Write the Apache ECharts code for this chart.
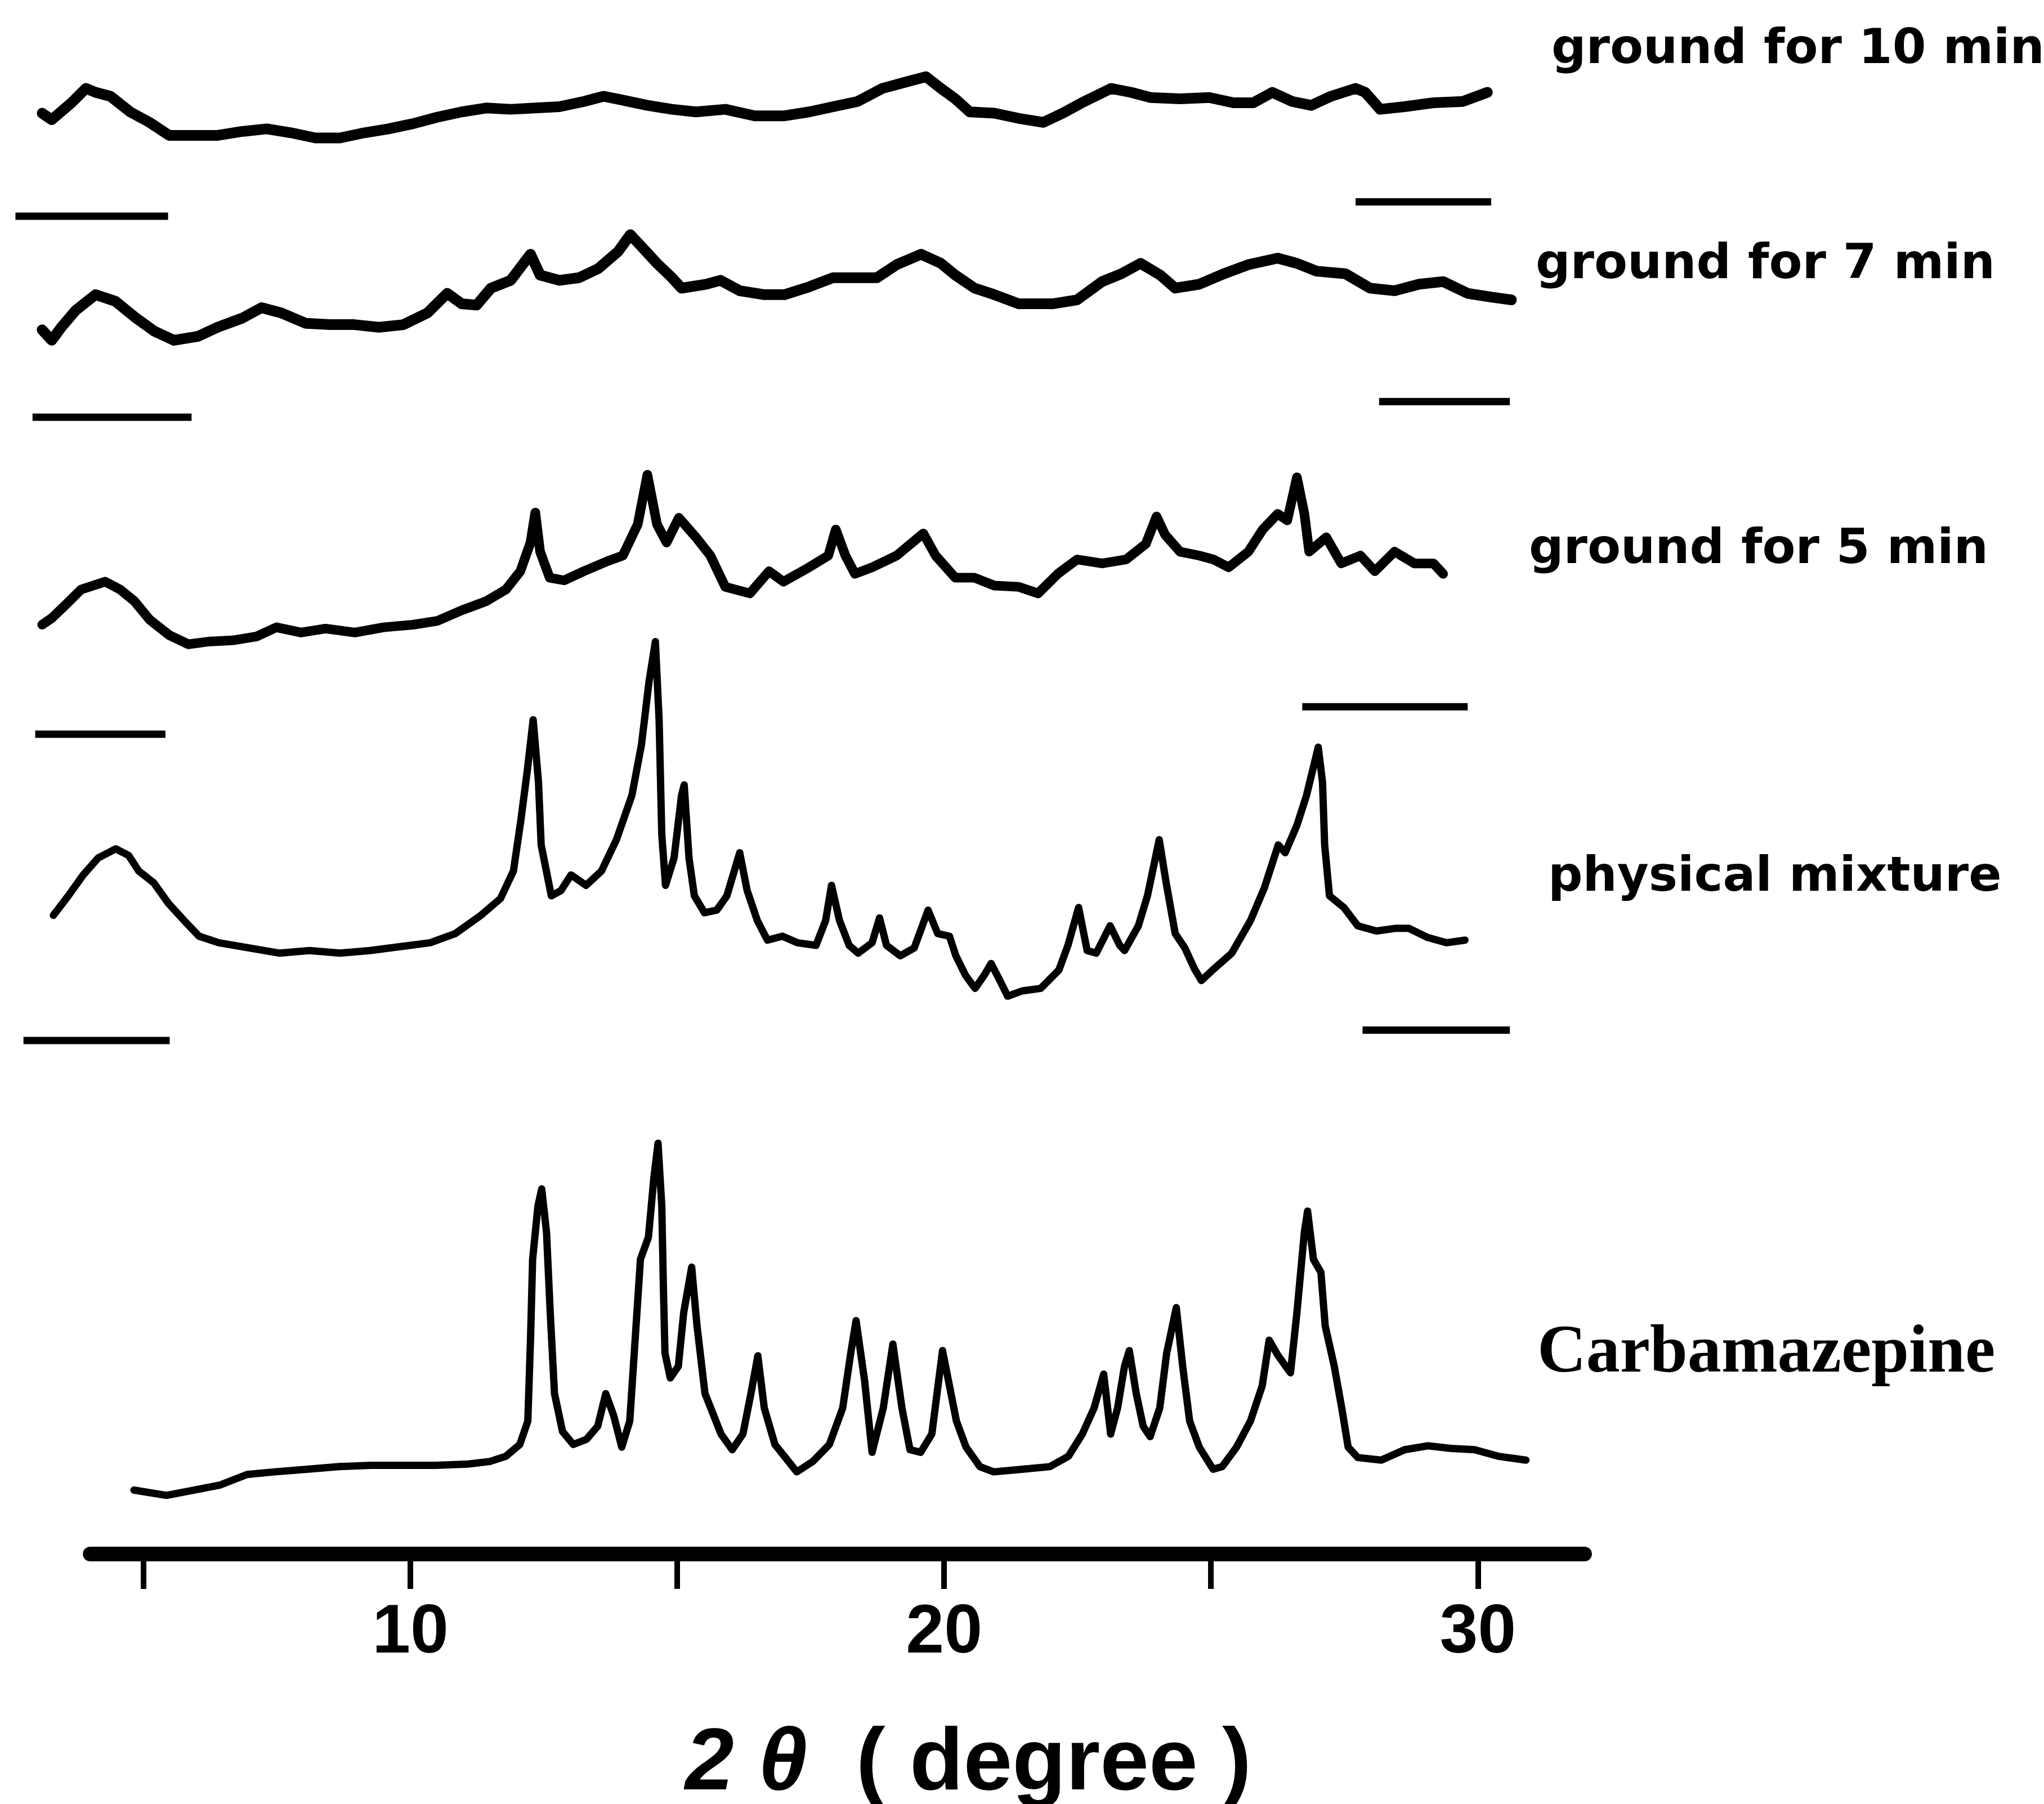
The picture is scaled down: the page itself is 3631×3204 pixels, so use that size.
<!DOCTYPE html>
<html>
<head>
<meta charset="utf-8">
<title>X-ray powder diffraction of ground carbamazepine</title>
<script src="https://cdn.jsdelivr.net/npm/echarts@6/dist/echarts.min.js"></script>
<style>
  html, body { margin: 0; padding: 0; background: #fff; }
  #chart { width: 3631px; height: 3204px; }
</style>
</head>
<body>
<div id="chart"></div>
<script>
// [2theta (degree), intensity above the pattern's own baseline mark (a.u.)]
const ground10 = [[3.10,79],[3.28,74],[3.65,87],[3.92,98],[4.10,95],[4.38,92],[4.75,80],[5.11,72],[5.48,62],[5.93,62],[6.39,62],[6.85,65],[7.31,67],[7.76,64],[8.22,60],[8.68,60],[9.14,64],[9.59,67],[10.05,71],[10.51,76],[10.96,80],[11.42,83],[11.88,82],[12.34,83],[12.79,84],[13.25,88],[13.62,92],[13.98,89],[14.44,85],[14.90,82],[15.35,80],[15.90,82],[16.45,77],[17.01,77],[17.47,80],[17.92,84],[18.38,88],[18.84,98],[19.29,103],[19.66,107],[19.94,98],[20.21,90],[20.48,80],[20.94,79],[21.40,75],[21.86,72],[22.22,79],[22.58,87],[23.13,98],[23.50,95],[23.87,91],[24.42,90],[24.97,91],[25.42,87],[25.79,87],[26.15,95],[26.52,88],[26.88,85],[27.25,92],[27.71,98],[27.89,95],[28.17,82],[28.62,84],[29.17,87],[29.72,88],[30.18,95]];

const ground7 = [[3.10,67],[3.28,59],[3.46,69],[3.73,82],[4.10,94],[4.47,89],[4.83,77],[5.20,66],[5.57,59],[6.02,62],[6.39,69],[6.85,76],[7.21,84],[7.58,80],[8.04,72],[8.50,71],[8.95,71],[9.41,69],[9.87,71],[10.32,80],[10.69,95],[10.96,87],[11.24,86],[11.51,99],[11.88,105],[12.25,125],[12.43,109],[12.79,105],[13.16,107],[13.52,114],[13.89,127],[14.12,140],[14.35,130],[14.62,118],[14.90,107],[15.08,99],[15.54,102],[15.81,105],[16.17,97],[16.63,94],[17.01,94],[17.47,100],[17.92,107],[18.38,107],[18.74,107],[19.11,117],[19.57,125],[19.94,118],[20.21,109],[20.57,99],[20.94,94],[21.40,87],[22.03,87],[22.49,90],[22.96,104],[23.32,110],[23.68,118],[24.05,109],[24.33,99],[24.78,102],[25.24,110],[25.70,117],[26.25,122],[26.61,118],[26.98,112],[27.52,110],[27.98,99],[28.44,97],[28.90,102],[29.35,104],[29.81,95],[30.27,92],[30.63,90]];

const ground5 = [[3.10,84],[3.28,89],[3.56,100],[3.83,111],[4.28,117],[4.56,111],[4.83,102],[5.11,88],[5.48,76],[5.84,69],[6.21,71],[6.67,72],[7.12,75],[7.49,82],[7.95,78],[8.41,81],[8.96,78],[9.50,82],[10.05,84],[10.51,87],[10.96,95],[11.42,102],[11.79,111],[12.06,125],[12.25,147],[12.34,170],[12.43,140],[12.61,120],[12.88,118],[13.25,125],[13.71,133],[13.98,137],[14.26,161],[14.44,199],[14.62,161],[14.80,147],[15.03,166],[15.35,151],[15.62,137],[15.90,113],[16.36,108],[16.72,125],[16.99,117],[17.47,128],[17.83,137],[17.97,157],[18.15,137],[18.33,123],[18.65,128],[19.11,137],[19.61,154],[19.84,137],[20.21,120],[20.57,120],[20.94,114],[21.40,113],[21.76,108],[22.13,123],[22.49,134],[22.96,131],[23.41,134],[23.78,146],[23.98,167],[24.14,153],[24.42,140],[24.78,137],[25.05,134],[25.33,128],[25.70,140],[25.97,157],[26.25,169],[26.43,164],[26.61,197],[26.75,169],[26.84,140],[27.16,151],[27.44,131],[27.80,137],[28.07,125],[28.44,140],[28.81,131],[29.17,131],[29.35,123]];

const physMix = [[3.31,96],[3.59,111],[3.87,127],[4.15,140],[4.48,147],[4.72,142],[4.91,130],[5.19,121],[5.47,105],[5.76,92],[6.04,80],[6.41,75],[6.98,71],[7.55,67],[8.11,69],[8.68,67],[9.24,69],[9.81,72],[10.37,75],[10.84,82],[11.32,96],[11.69,109],[11.93,130],[12.07,169],[12.19,207],[12.30,246],[12.40,198],[12.45,150],[12.64,111],[12.82,115],[13.01,127],[13.29,119],[13.58,130],[13.86,154],[14.15,188],[14.33,227],[14.47,275],[14.59,306],[14.66,246],[14.71,158],[14.78,119],[14.94,140],[15.08,188],[15.13,196],[15.22,140],[15.32,111],[15.51,98],[15.74,100],[15.93,111],[16.17,144],[16.31,115],[16.50,92],[16.69,77],[16.97,80],[17.25,75],[17.60,73],[17.78,92],[17.89,119],[18.04,92],[18.22,73],[18.39,67],[18.65,75],[18.79,94],[18.92,73],[19.18,65],[19.44,71],[19.70,100],[19.88,82],[20.10,80],[20.22,65],[20.40,50],[20.58,40],[20.75,50],[20.88,59],[21.02,48],[21.19,34],[21.46,38],[21.81,40],[22.15,54],[22.32,73],[22.52,102],[22.68,69],[22.85,67],[23.11,88],[23.29,73],[23.38,69],[23.64,88],[23.81,111],[24.03,154],[24.16,121],[24.33,82],[24.51,71],[24.69,55],[24.82,46],[25.03,54],[25.39,67],[25.74,92],[26.00,117],[26.26,150],[26.39,144],[26.61,165],[26.79,188],[27.01,225],[27.09,198],[27.13,150],[27.22,111],[27.49,102],[27.75,88],[28.10,84],[28.45,86],[28.71,86],[29.06,79],[29.41,75],[29.76,77]];

const carbamazepine = [[4.82,49],[5.43,45],[5.94,49],[6.44,53],[6.94,61],[7.45,63],[8.06,65],[8.66,67],[9.26,68],[9.87,68],[10.48,68],[11.08,69],[11.49,71],[11.79,75],[12.05,84],[12.20,102],[12.25,164],[12.29,226],[12.39,267],[12.46,280],[12.55,247],[12.62,185],[12.70,123],[12.85,94],[13.05,84],[13.30,88],[13.51,98],[13.66,123],[13.81,106],[13.96,82],[14.11,102],[14.21,164],[14.31,226],[14.46,243],[14.56,288],[14.64,315],[14.71,267],[14.74,205],[14.77,154],[14.87,135],[15.02,144],[15.12,185],[15.27,220],[15.37,175],[15.52,123],[15.82,92],[16.03,80],[16.23,92],[16.38,123],[16.51,152],[16.63,112],[16.83,84],[17.24,63],[17.54,71],[17.85,84],[18.10,112],[18.25,154],[18.35,179],[18.51,133],[18.65,78],[18.86,112],[19.04,161],[19.21,112],[19.36,80],[19.56,78],[19.77,92],[19.97,156],[20.11,127],[20.23,102],[20.41,82],[20.67,67],[20.93,63],[21.46,65],[21.98,67],[22.33,75],[22.59,92],[22.81,112],[22.99,138],[23.12,92],[23.25,112],[23.38,144],[23.47,156],[23.60,123],[23.73,98],[23.86,90],[24.04,112],[24.17,154],[24.35,189],[24.47,144],[24.60,102],[24.78,82],[25.04,65],[25.21,67],[25.48,82],[25.74,102],[25.96,129],[26.09,164],[26.26,152],[26.49,139],[26.61,185],[26.75,247],[26.81,263],[26.92,226],[27.06,216],[27.14,175],[27.31,144],[27.45,112],[27.57,82],[27.75,74],[28.19,72],[28.63,80],[29.06,83],[29.50,81],[29.94,80],[30.38,75],[30.90,72]];

// short baseline bars drawn left and right of each pattern
const marks10 = [[[2.60,0],[5.46,0]], [[27.71,11],[30.25,11]]];
const marks7 = [[[2.92,0],[5.90,0]], [[28.15,12],[30.60,12]]];
const marks5 = [[[2.97,0],[5.41,0]], [[26.71,21],[29.81,21]]];
const marksMix = [[[2.75,0],[5.49,0]], [[27.84,8],[30.60,8]]];

const axisTicks = [5, 10, 15, 20, 25, 30];
const axisLabels = [10, 20, 30];

// layout in page pixels
const PX_PER_DEG = 94.81;
const X_AT_5 = 255;
const PX_PER_UNIT = 2.3157;
const VMIN = -30;
const X_MIN = 2.4, X_MAX = 31.5;

function xPx(theta) {
  return X_AT_5 + (theta - 5) * PX_PER_DEG;
}

const sansLabel = "bold 86px 'DejaVu Sans', sans-serif";

const panels = [
  { name: "ground for 10 min", data: ground10, marks: marks10, base: 384, vmax: 130, width: 19,
    label: { x: 2756, y: 90, font: sansLabel } },
  { name: "ground for 7 min", data: ground7, marks: marks7, base: 741, vmax: 160, width: 19,
    label: { x: 2728, y: 472, font: sansLabel } },
  { name: "ground for 5 min", data: ground5, marks: marks5, base: 1304, vmax: 220, width: 17,
    label: { x: 2716, y: 978, font: sansLabel } },
  { name: "physical mixture", data: physMix, marks: marksMix, base: 1848, vmax: 330, width: 13,
    label: { x: 2750, y: 1560, font: sansLabel } },
  { name: "Carbamazepine", data: carbamazepine, marks: [], base: 2760, vmax: 340, width: 13,
    label: { x: 2731, y: 2405, font: "bold 120px 'Liberation Serif', serif" } }
];

const grids = [], xAxes = [], yAxes = [], series = [], graphic = [];

panels.forEach((p, i) => {
  grids.push({
    left: xPx(X_MIN),
    width: (X_MAX - X_MIN) * PX_PER_DEG,
    top: p.base - p.vmax * PX_PER_UNIT,
    height: (p.vmax - VMIN) * PX_PER_UNIT
  });
  xAxes.push({ type: "value", gridIndex: i, min: X_MIN, max: X_MAX, show: false });
  yAxes.push({ type: "value", gridIndex: i, min: VMIN, max: p.vmax, show: false });
  series.push({
    type: "line",
    name: p.name,
    xAxisIndex: i,
    yAxisIndex: i,
    data: p.data,
    showSymbol: false,
    lineStyle: { color: "#000", width: p.width, join: "round", cap: "round" }
  });
  p.marks.forEach((m) => {
    series.push({
      type: "line",
      xAxisIndex: i,
      yAxisIndex: i,
      data: m,
      showSymbol: false,
      lineStyle: { color: "#000", width: 13 }
    });
  });
  graphic.push({
    type: "text",
    x: p.label.x,
    y: p.label.y,
    style: { text: p.name, font: p.label.font, fill: "#000", verticalAlign: "middle" }
  });
});

// the 2theta axis sits on its own grid, spanning 4 to 32 degrees
const axisIdx = panels.length;
grids.push({ left: xPx(4), width: 28 * PX_PER_DEG, top: 2660, height: 100 });
xAxes.push({
  type: "value",
  gridIndex: axisIdx,
  min: 4,
  max: 32,
  axisLine: { onZero: false, lineStyle: { color: "#000", width: 26 } },
  axisTick: { customValues: axisTicks, length: 62, lineStyle: { color: "#000", width: 10 } },
  axisLabel: {
    customValues: axisLabels,
    margin: 80,
    color: "#000",
    fontSize: 122,
    fontWeight: "bold",
    fontFamily: "'Liberation Sans Narrow', 'Liberation Sans', sans-serif"
  },
  splitLine: { show: false }
});
yAxes.push({ type: "value", gridIndex: axisIdx, min: 0, max: 1, show: false });
series.push({ type: "line", xAxisIndex: axisIdx, yAxisIndex: axisIdx, data: [] });

graphic.push({
  type: "text",
  x: 1720,
  y: 3135,
  style: {
    text: "{i|2 θ}  ( degree )",
    font: "bold 156px 'Liberation Sans', sans-serif",
    fill: "#000",
    align: "center",
    verticalAlign: "middle",
    rich: {
      i: { fontStyle: "italic", fontWeight: "bold", fontSize: 156, fontFamily: "'Liberation Sans', sans-serif" }
    }
  }
});

const chart = echarts.init(document.getElementById("chart"));
chart.setOption({
  backgroundColor: "#fff",
  animation: false,
  grid: grids,
  xAxis: xAxes,
  yAxis: yAxes,
  series: series,
  graphic: graphic
});
</script>
</body>
</html>
